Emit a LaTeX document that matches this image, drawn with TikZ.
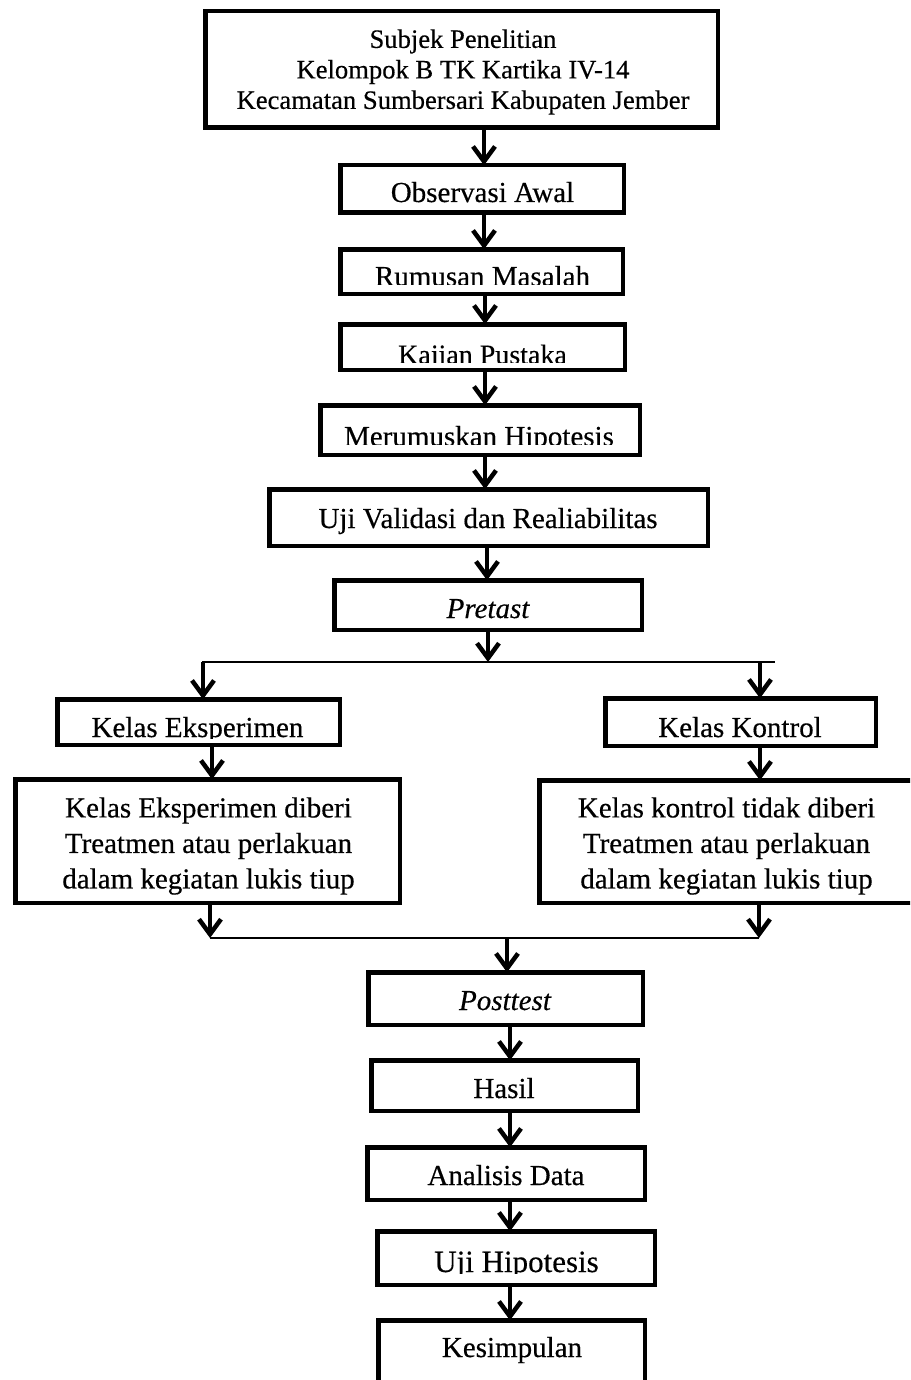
\documentclass[tikz,border=0pt]{standalone}
\usepackage{fontspec}
\setmainfont{Liberation Serif}[FakeBold=0.4]
\usetikzlibrary{arrows.meta}
\newcommand\setfs[2]{\fontsize{#1}{#2}\selectfont}
\begin{document}
\begin{tikzpicture}[x=1pt,y=-1pt,
  box/.style={draw, line width=4.5pt, fill=white, inner sep=0pt, outer sep=0pt, rectangle},
  arr/.style={line width=4.5pt, -{Straight Barb[length=15pt,width=22pt,line width=4.5pt]}},
  split/.style={line width=1.5pt},
  txt/.style={inner sep=0pt, outer sep=0pt, anchor=base, font=\setfs{29}{34}},
  multi/.style={inner sep=0pt, outer sep=0pt, align=center, font=\setfs{29}{35.5}}]
\useasboundingbox (0,0) rectangle (910,1380);
\clip (0,0) rectangle (910,1380);
\fill[white] (0,0) rectangle (910,1380);

% boxes
\node[box, minimum width=512.5pt, minimum height=116.5pt] (n1) at (461.5,69.5) {};
\node[box, minimum width=283.5pt, minimum height=47.5pt] (n2) at (482,189) {};
\node[box, minimum width=282.5pt, minimum height=44.5pt] (n3) at (481.5,271.5) {};
\node[box, minimum width=284.5pt, minimum height=45.5pt] (n4) at (482.5,347) {};
\node[box, minimum width=319.5pt, minimum height=49.5pt] (n5) at (480,430) {};
\node[box, minimum width=438.5pt, minimum height=56.5pt] (n6) at (488.5,517.5) {};
\node[box, minimum width=307.5pt, minimum height=49.5pt] (n7) at (488,605) {};
\node[box, minimum width=282.5pt, minimum height=45.5pt] (n8) at (198.5,722) {};
\node[box, minimum width=270.5pt, minimum height=47.5pt] (n9) at (740.5,722) {};
\node[box, minimum width=384.5pt, minimum height=123.5pt] (n10) at (207.5,841) {};
\node[box, minimum width=404.5pt, minimum height=122.5pt] (n11) at (741.5,841.5) {};
\node[box, minimum width=274.5pt, minimum height=52.5pt] (n12) at (505.5,998.5) {};
\node[box, minimum width=266.5pt, minimum height=50.5pt] (n13) at (504.5,1085.5) {};
\node[box, minimum width=277.5pt, minimum height=52.5pt] (n14) at (506,1173.5) {};
\node[box, minimum width=277.5pt, minimum height=53.5pt] (n15) at (516,1258) {};
\node[box, minimum width=266.5pt, minimum height=87.5pt] (n16) at (511.5,1364) {};

% texts
\node[multi, font=\setfs{26.6}{30.5}] (t1) at (463,72) {Subjek Penelitian\\Kelompok B TK Kartika IV-14\\Kecamatan Sumbersari Kabupaten Jember};
\node[txt] (t2) at (482.5,202) {Observasi Awal};
\begin{scope}
  \clip (330,240) rectangle (640,284);
  \node[txt] (t3) at (482.5,286) {Rumusan Masalah};
\end{scope}
\begin{scope}
  \clip (330,315) rectangle (640,362);
  \node[txt, font=\setfs{28}{34}] (t4) at (482.5,364) {Kajian Pustaka};
\end{scope}
\begin{scope}
  \clip (310,395) rectangle (650,444);
  \node[txt] (t5) at (479,446) {Merumuskan Hipotesis};
\end{scope}
\node[txt] (t6) at (488,528) {Uji Validasi dan Realiabilitas};
\node[txt] (t7) at (488,618) {\itshape Pretast};
\begin{scope}
  \clip (50,690) rectangle (350,738);
  \node[txt] (t8) at (197.5,737) {Kelas Eksperimen};
\end{scope}
\begin{scope}
  \clip (595,690) rectangle (885,738);
  \node[txt] (t9) at (740,737) {Kelas Kontrol};
\end{scope}
\node[multi] (t10) at (208.5,846) {Kelas Eksperimen diberi\\Treatmen atau perlakuan\\dalam kegiatan lukis tiup};
\node[multi] (t11) at (726.5,846) {Kelas kontrol tidak diberi\\Treatmen atau perlakuan\\dalam kegiatan lukis tiup};
\node[txt] (t12) at (505,1010) {\itshape Posttest};
\node[txt] (t13) at (504,1098) {Hasil};
\node[txt] (t14) at (506,1185) {Analisis Data};
\begin{scope}
  \clip (370,1220) rectangle (665,1273);
  \node[txt, font=\setfs{31}{36}] (t15) at (516.5,1272) {Uji Hipotesis};
\end{scope}
\node[txt] (t16) at (512,1357) {Kesimpulan};

% arrow columns and split points
\coordinate (xa) at (484,0);
\coordinate (xb) at (485,0);
\coordinate (xc) at (487,0);
\coordinate (xd) at (488,0);
\coordinate (xe) at (507,0);
\coordinate (xf) at (510,0);
\coordinate (xl) at (203,0);
\coordinate (xr) at (760,0);
\coordinate (xl2) at (212,0);
\coordinate (xl3) at (210,0);
\coordinate (xr3) at (759,0);
\coordinate (s1L) at (202,662);
\coordinate (s1R) at (775,662);
\coordinate (s2L) at (210,938);
\coordinate (s2R) at (759,938);

\draw[arr] (n1.south -| xa) -- (n2.north -| xa);
\draw[arr] (n2.south -| xa) -- (n3.north -| xa);
\draw[arr] (n3.south -| xb) -- (n4.north -| xb);
\draw[arr] (n4.south -| xb) -- (n5.north -| xb);
\draw[arr] (n5.south -| xb) -- (n6.north -| xb);
\draw[arr] (n6.south -| xc) -- (n7.north -| xc);
\draw[arr] (n7.south -| xd) -- (s1L -| xd);
\draw[split] (s1L) -- (s1R);
\draw[arr] (s1L -| xl) -- (n8.north -| xl);
\draw[arr] (s1R -| xr) -- (n9.north -| xr);
\draw[arr] (n8.south -| xl2) -- (n10.north -| xl2);
\draw[arr] (n9.south -| xr) -- (n11.north -| xr);
\draw[arr] (n10.south -| xl3) -- (s2L);
\draw[arr] (n11.south -| xr3) -- (s2R);
\draw[split] (s2L) -- (s2R);
\draw[arr] (s2L -| xe) -- (n12.north -| xe);
\draw[arr] (n12.south -| xf) -- (n13.north -| xf);
\draw[arr] (n13.south -| xf) -- (n14.north -| xf);
\draw[arr] (n14.south -| xf) -- (n15.north -| xf);
\draw[arr] (n15.south -| xf) -- (n16.north -| xf);
\end{tikzpicture}
\end{document}
